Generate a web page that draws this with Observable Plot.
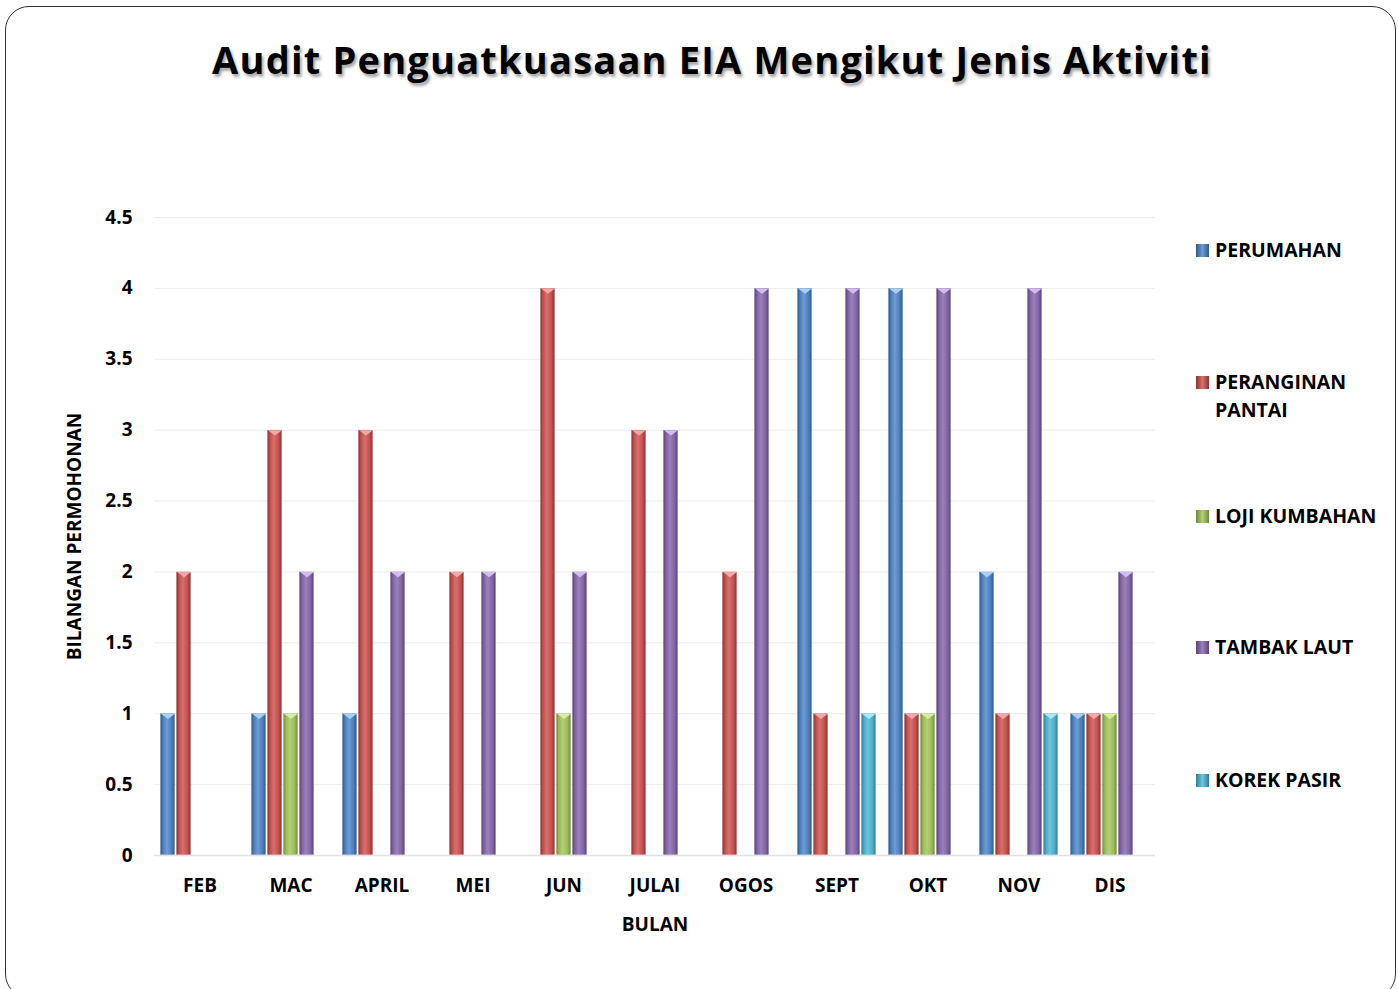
<!DOCTYPE html>
<html>
<head>
<meta charset="utf-8">
<script src="https://cdn.jsdelivr.net/npm/d3@7"></script>
<script src="https://cdn.jsdelivr.net/npm/@observablehq/plot@0.6"></script>
<style>
  html, body { margin: 0; padding: 0; background: #fff; }
  #page { position: relative; width: 1398px; height: 989px; overflow: hidden; font-family: "Open Sans", sans-serif; }
  #frame { position: absolute; left: 5px; top: 6px; width: 1391px; height: 992px; border: 1.5px solid #333; border-radius: 24px; box-sizing: border-box; }
  #title { position: absolute; top: 33px; left: 112px; width: 1200px; text-align: center; font-weight: 700; font-size: 38px; letter-spacing: 1.2px; color: #000; text-shadow: 2px 3px 3px rgba(0,0,0,0.35); white-space: nowrap; }
  #chart { position: absolute; left: 0; top: 190px; }
  #legend { position: absolute; left: 1196px; top: 0; }
  .item { position: absolute; left: 0; font-weight: 700; font-size: 19.5px; line-height: 28px; color: #000; white-space: nowrap; }
  .sw { position: absolute; left: 0; width: 13px; height: 13px; top: 8px; }
  .lbl { position: absolute; left: 19px; }
</style>
</head>
<body>
<div id="page">
  <div id="frame"></div>
  <div id="title">Audit Penguatkuasaan EIA Mengikut Jenis Aktiviti</div>
  <div id="chart"></div>
  <div id="legend"></div>
</div>
<script>
const months = ["FEB","MAC","APRIL","MEI","JUN","JULAI","OGOS","SEPT","OKT","NOV","DIS"];
const series = ["PERUMAHAN","PERANGINAN PANTAI","LOJI KUMBAHAN","TAMBAK LAUT","KOREK PASIR"];
const perumahan  = [1,1,1,0,0,0,0,4,4,2,1];
const peranginan = [2,3,3,2,4,3,2,1,1,1,1];
const loji       = [0,1,0,0,1,0,0,0,1,0,1];
const tambak     = [0,2,2,2,2,3,4,4,4,4,2];
const korek      = [0,0,0,0,0,0,0,1,0,1,0];
const baseColors  = ["#4a7ebb","#c0504d","#9bbb59","#8064a2","#4bacc6"];
const darkColors  = ["#2f5a8c","#8e3331","#6f8a3a","#5a4479","#2f8099"];
const lightColors = ["#6f9bd3","#d8706d","#b2d078","#9a80bd","#6fc4dc"];
const capColors   = ["#a9d0f5","#f2a8a6","#d7ee9f","#d3bdf0","#a6e8f7"];
const yTicks = [0,0.5,1,1.5,2,2.5,3,3.5,4,4.5];
const legendLabels = ["PERUMAHAN","PERANGINAN<br>PANTAI","LOJI KUMBAHAN","TAMBAK LAUT","KOREK PASIR"];

const valueLists = [perumahan, peranginan, loji, tambak, korek];
const data = [];
months.forEach((m, i) => {
  series.forEach((s, j) => {
    data.push({month: m, series: s, si: j, value: valueLists[j][i]});
  });
});
const bars = data.filter(d => d.value > 0);

const downTri = {
  draw(ctx, size) {
    const r = Math.sqrt(size / Math.PI);
    ctx.moveTo(-r, 0);
    ctx.lineTo(r, 0);
    ctx.lineTo(0, r * 0.75);
    ctx.closePath();
  }
};

const chart = Plot.plot({
  width: 1170,
  height: 760,
  marginTop: 27,
  marginBottom: 95,
  marginLeft: 151,
  marginRight: 12,
  style: {fontFamily: "'Open Sans', sans-serif", fontWeight: "700", fontSize: "19px", color: "#000", background: "transparent", overflow: "visible"},
  fx: {domain: months, padding: 0, label: null},
  x: {domain: series, paddingInner: 0.06, paddingOuter: 0.28, axis: null},
  y: {domain: [0, 4.5], ticks: yTicks},
  color: {type: "identity"},
  marks: [
    Plot.ruleY(yTicks.slice(1), {stroke: "#ececec", strokeWidth: 1}),
    Plot.ruleY([0], {stroke: "#e2e2e2", strokeWidth: 1.5}),
    Plot.barY(bars, {fx: "month", x: "series", y: "value", fill: d => `url(#grad${d.si})`, inset: 0.5, stroke: d => darkColors[d.si], strokeOpacity: 0.35, strokeWidth: 0.6}),
    Plot.dot(bars, {fx: "month", x: "series", y: "value", symbol: downTri, r: 7, fill: d => capColors[d.si], stroke: "none"}),
    Plot.axisY({ticks: yTicks, tickSize: 0, tickPadding: 22, tickFormat: d => String(d), label: "BILANGAN PERMOHONAN", labelAnchor: "center", labelArrow: "none", labelOffset: 87, fontSize: 19}),
    Plot.axisFx({anchor: "bottom", tickSize: 0, tickPadding: 23, label: "BULAN", labelAnchor: "center", labelArrow: "none", labelOffset: 75, fontSize: 19})
  ]
});

// gradient defs
const ns = "http://www.w3.org/2000/svg";
const defs = document.createElementNS(ns, "defs");
baseColors.forEach((c, i) => {
  const g = document.createElementNS(ns, "linearGradient");
  g.setAttribute("id", "grad" + i);
  g.setAttribute("x1", "0"); g.setAttribute("x2", "1");
  g.setAttribute("y1", "0"); g.setAttribute("y2", "0");
  [[0, darkColors[i]], [0.18, c], [0.45, lightColors[i]], [0.8, c], [1, darkColors[i]]].forEach(([o, col]) => {
    const s = document.createElementNS(ns, "stop");
    s.setAttribute("offset", o);
    s.setAttribute("stop-color", col);
    g.appendChild(s);
  });
  defs.appendChild(g);
});
chart.insertBefore(defs, chart.firstChild);
document.getElementById("chart").appendChild(chart);

// legend
const legendY = [236, 368, 502, 633, 766];
const lg = document.getElementById("legend");
series.forEach((s, i) => {
  const it = document.createElement("div");
  it.className = "item";
  it.style.top = legendY[i] + "px";
  it.innerHTML = `<div class="sw" style="background:linear-gradient(to right, ${darkColors[i]}, ${lightColors[i]} 50%, ${darkColors[i]})"></div><div class="lbl">${legendLabels[i]}</div>`;
  lg.appendChild(it);
});
</script>
</body>
</html>
